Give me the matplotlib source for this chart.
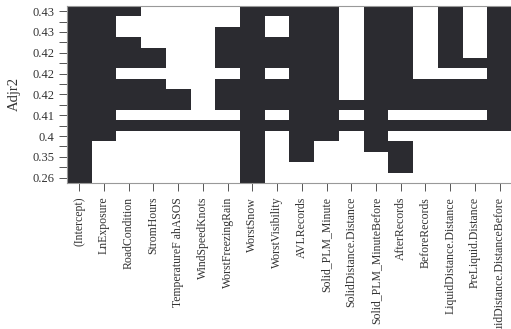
import numpy as np
import matplotlib
matplotlib.use('Agg')
from matplotlib import pyplot as plt
from matplotlib.colors import ListedColormap

# Variaveis (colunas) do grafico do regsubsets
variaveis = ['(Intercept)', 'LnExposure', 'RoadCondition', 'StromHours',
             'TemperatureF ahASOS', 'WindSpeedKnots', 'WorstFreezingRain',
             'WorstSnow', 'WorstVisibility', 'AVLRecords', 'Solid_PLM_Minute',
             'SolidDistance.Distance', 'Solid_PLM_MinuteBefore', 'AfterRecords',
             'BeforeRecords', 'LiquidDistance.Distance', 'PreLiquid.Distance',
             'LiquidDistance.DistanceBefore']

# Adjr2 de cada modelo, de cima para baixo
adjr2 = [0.433, 0.430, 0.428, 0.426, 0.424, 0.423, 0.421, 0.419, 0.417,
         0.414, 0.411, 0.409, 0.402, 0.385, 0.352, 0.310, 0.262]

# Variaveis incluidas em cada modelo (1 = incluida), de cima para baixo
incluidas = [
    [1, 1, 1, 0, 0, 0, 0, 1, 1, 1, 1, 0, 1, 1, 0, 1, 0, 1],
    [1, 1, 0, 0, 0, 0, 0, 1, 0, 1, 1, 0, 1, 1, 0, 1, 0, 1],
    [1, 1, 0, 0, 0, 0, 1, 1, 0, 1, 1, 0, 1, 1, 0, 1, 0, 1],
    [1, 1, 1, 0, 0, 0, 1, 1, 1, 1, 1, 0, 1, 1, 0, 1, 0, 1],
    [1, 1, 1, 1, 0, 0, 1, 1, 1, 1, 1, 0, 1, 1, 0, 1, 0, 1],
    [1, 1, 1, 1, 0, 0, 1, 1, 1, 1, 1, 0, 1, 1, 0, 1, 1, 1],
    [1, 1, 0, 0, 0, 0, 0, 1, 0, 1, 1, 0, 1, 1, 0, 0, 0, 1],
    [1, 1, 1, 1, 0, 0, 1, 1, 1, 1, 1, 0, 1, 1, 1, 1, 1, 1],
    [1, 1, 1, 1, 1, 0, 1, 1, 1, 1, 1, 0, 1, 1, 1, 1, 1, 1],
    [1, 1, 1, 1, 1, 0, 1, 1, 1, 1, 1, 1, 1, 1, 1, 1, 1, 1],
    [1, 1, 0, 0, 0, 0, 0, 1, 0, 1, 1, 0, 1, 0, 0, 0, 0, 1],
    [1, 1, 1, 1, 1, 1, 1, 1, 1, 1, 1, 1, 1, 1, 1, 1, 1, 1],
    [1, 1, 0, 0, 0, 0, 0, 1, 0, 1, 1, 0, 1, 0, 0, 0, 0, 0],
    [1, 0, 0, 0, 0, 0, 0, 1, 0, 1, 0, 0, 1, 1, 0, 0, 0, 0],
    [1, 0, 0, 0, 0, 0, 0, 1, 0, 1, 0, 0, 0, 1, 0, 0, 0, 0],
    [1, 0, 0, 0, 0, 0, 0, 1, 0, 0, 0, 0, 0, 1, 0, 0, 0, 0],
    [1, 0, 0, 0, 0, 0, 0, 1, 0, 0, 0, 0, 0, 0, 0, 0, 0, 0],
]

plt.rcParams['font.family'] = ['Liberation Serif', 'DejaVu Serif']

matriz = np.array(incluidas)[::-1]  # de baixo para cima
n_lin, n_col = matriz.shape

fig = plt.figure(figsize=(5.11, 3.29), dpi=100)
ax = fig.add_axes([0.131, 0.444, 0.871, 0.538])

cmap = ListedColormap(['white', '#2b2b30'])
ax.pcolormesh(np.arange(n_col + 1) - 0.5, np.arange(n_lin + 1) - 0.5, matriz,
              cmap=cmap, vmin=0, vmax=1)
ax.set_xlim(-0.5, n_col - 0.5)
ax.set_ylim(-0.5, n_lin - 0.5)

# rotulos do eixo y (so um sim, outro nao, como no R)
valores = adjr2[::-1]
rotulos_y = [('%g' % round(v, 2)) if i % 2 == 0 else '' for i, v in enumerate(valores)]
ax.set_yticks(np.arange(n_lin))
ax.set_yticklabels(rotulos_y)
ax.set_xticks(np.arange(n_col))
ax.set_xticklabels(variaveis, rotation=90)

ax.tick_params(axis='both', colors='#555555', labelcolor='#333333',
               length=6, width=0.7)
ax.tick_params(axis='x', pad=4, labelsize=8.5)
ax.tick_params(axis='y', pad=3, labelsize=9)
for s in ax.spines.values():
    s.set_color('#999999')
    s.set_linewidth(0.8)

ax.set_ylabel('Adjr2', color='#333333', fontsize=10.5, labelpad=8)

fig.savefig('out.png', dpi=100)
